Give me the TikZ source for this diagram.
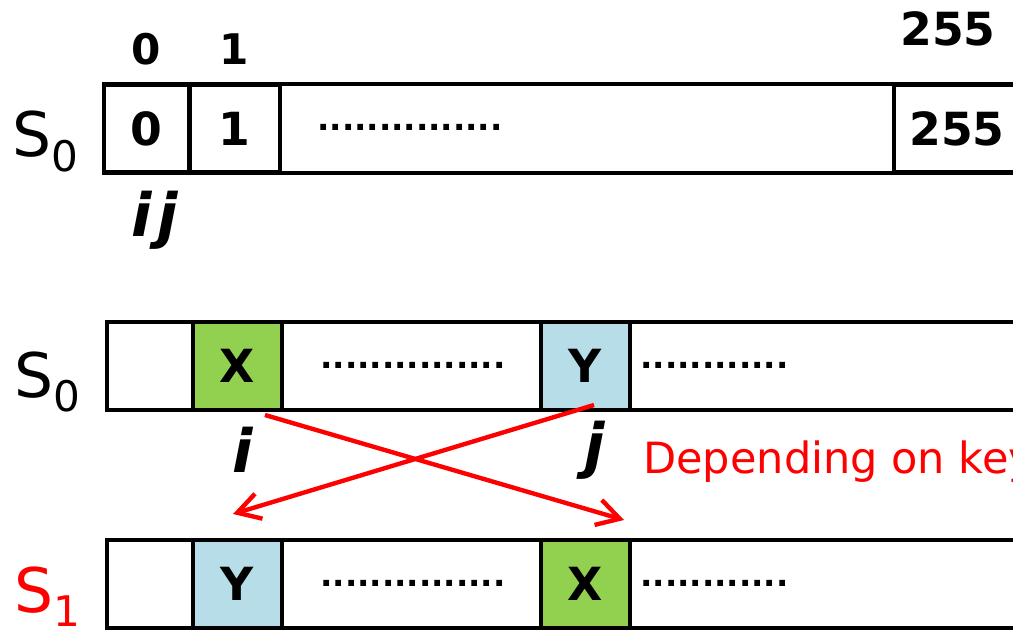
\documentclass[tikz,border=0pt]{standalone}
\usepackage{fontspec}
\setmainfont{DejaVu Sans}
\usetikzlibrary{arrows.meta}
\definecolor{swapgreen}{HTML}{92D050}
\definecolor{swapblue}{HTML}{B7DEE8}
\definecolor{keyred}{HTML}{FF0000}
\newcommand\sdrop[1]{\raisebox{-8.5pt}{\fontsize{24}{24}\selectfont #1}}

\begin{document}
\begin{tikzpicture}[x=0.02cm,y=-0.02cm,
		box/.style={draw,line width=2.6pt},
		cell/.style={draw,line width=2.6pt,minimum height=1.76cm,inner sep=0pt,
			font=\fontsize{26}{26}\selectfont\bfseries},
		idx/.style={font=\fontsize{24}{24}\selectfont\bfseries,inner sep=0pt},
		sname/.style={anchor=base west,inner sep=0pt,font=\fontsize{35}{35}\selectfont},
		ptr/.style={anchor=base,inner sep=0pt,font=\fontsize{34}{34}\selectfont\bfseries\itshape},
		dots/.style={anchor=base west,inner sep=0pt,font=\fontsize{18.5}{18.5}\selectfont\bfseries},
		swap/.style={draw=keyred,line width=2.5pt,-{Straight Barb[length=4.5mm,width=5.2mm]}}]
		\useasboundingbox (0,0) rectangle (1013,631);
		% the initial state
		\node[sname] (s0a) at (12,157) {S\sdrop{0}};
		\draw[box] (104,84) rectangle (1020,173);
		\node[cell,minimum width=1.71cm] (t0) at (146.75,128.5) {0};
		\node[cell,minimum width=1.81cm] (t1) at (234.75,128.5) {1};
		\node[cell,minimum width=2.52cm] (t255) at (957,128.5) {255};
		\node[dots] (tdots) at (317,131) {...............};
		\node[idx] (n0) at (146,49) {0};
		\node[idx] (n1) at (234,49) {1};
		\node[idx,font=\fontsize{26}{26}\selectfont\bfseries] (n255) at (948,29) {255};
		\node[ptr] (ij) at (155,237) {i\kern3pt j};
		% before the swap
		\node[sname] (s0b) at (14,397) {S\sdrop{0}};
		\draw[box] (107,322) rectangle (1020,410);
		\node[cell,fill=swapgreen,minimum width=1.78cm] (x0) at (237.5,366) {X};
		\node[cell,fill=swapblue,minimum width=1.78cm] (y0) at (585.5,366) {Y};
		\node[dots] (mdots1) at (320,368) {...............};
		\node[dots] (mdots2) at (640,368) {............};
		\node[ptr] (pi) at (243,472) {i};
		\node[ptr] (pj) at (595,466) {j};
		\node[anchor=base west,inner sep=0pt,text=keyred,font=\fontsize{24.5}{24.5}\selectfont]
			(note) at (643,473) {Depending on key};
		% after the swap
		\node[sname,text=keyred] (s1) at (14,612) {S\sdrop{1}};
		\draw[box] (107,540) rectangle (1020,628);
		\node[cell,fill=swapblue,minimum width=1.78cm] (y1) at (237.5,584) {Y};
		\node[cell,fill=swapgreen,minimum width=1.78cm] (x1) at (585.5,584) {X};
		\node[dots] (bdots1) at (320,586) {...............};
		\node[dots] (bdots2) at (640,586) {............};
		% the exchange
		\coordinate (xfrom) at (265,415);
		\coordinate (xto) at (624,520);
		\coordinate (yfrom) at (594,405);
		\coordinate (yto) at (233,514);
		\draw[swap] (xfrom) -- (xto);
		\draw[swap] (yfrom) -- (yto);
	\end{tikzpicture}
\end{document}
